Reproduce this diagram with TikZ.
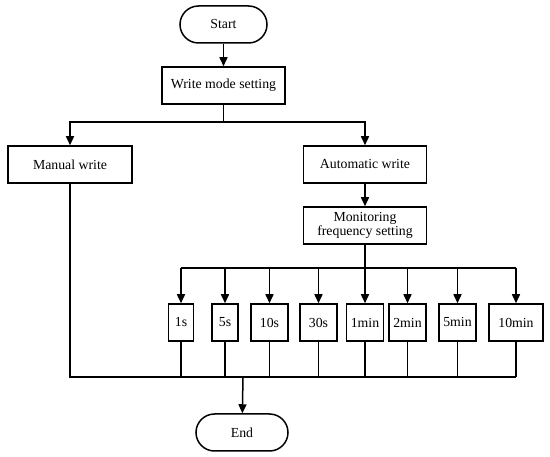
\documentclass[tikz,border=0pt]{standalone}
\usepackage{fontspec}
\setmainfont{Liberation Serif}
\usetikzlibrary{arrows.meta}
\begin{document}
\begin{tikzpicture}[x=1pt,y=-1pt,
  box/.style={draw, line width=1.5pt, inner sep=0pt, minimum height=37pt,
    font=\fontsize{13.8}{14.5}\selectfont, align=center},
  term/.style={box, rounded corners=18.5pt},
  conn/.style={line width=1.5pt},
  arr/.style={conn, -{Triangle[length=9pt,width=8pt]}}]
\useasboundingbox (0,0) rectangle (550,457);
\node[term, minimum width=87pt] (start) at (223.5,24.5) {Start};
\node[box, minimum width=123pt] (mode) at (223.5,85.5) {Write mode setting};
\node[box, minimum width=124pt] (manual) at (70,164.5) {Manual write};
\node[box, minimum width=123pt] (auto) at (365,164.5) {Automatic write};
\node[box, minimum width=123pt] (mon) at (365,225.5) {Monitoring\\frequency setting};
\node[box, minimum width=25pt] (f1) at (181,322.5) {1s};
\node[box, minimum width=26pt] (f2) at (225,322.5) {5s};
\node[box, minimum width=37pt] (f3) at (269.5,322.5) {10s};
\node[box, minimum width=37pt] (f4) at (318.5,322.5) {30s};
\node[box, minimum width=37pt] (f5) at (365,322.5) {1min};
\node[box, minimum width=37pt] (f6) at (407.5,322.5) {2min};
\node[box, minimum width=37pt] (f7) at (457.5,322.5) {5min};
\node[box, minimum width=54pt] (f8) at (516,322.5) {10min};
\node[term, minimum width=92pt] (end) at (242,432.5) {End};
\coordinate (b1) at (223.5,122);
\coordinate (b2) at (365,268);
\coordinate (b3) at (243,377);
\draw[arr] (start) -- (mode);
\draw[conn] (mode) -- (b1);
\draw[arr] (b1) -| (manual);
\draw[arr] (b1) -| (auto);
\draw[arr] (auto) -- (mon);
\draw[conn] (mon) -- (b2);
\draw[conn] (f1 |- b2) -- (f8 |- b2);
\foreach \f in {f1,f2,f3,f4,f5,f6,f7,f8} {
  \draw[arr] (\f |- b2) -- (\f);
  \draw[conn] (\f) -- (\f |- b3);
}
\draw[conn] (manual) -- (manual |- b3) -- (f8 |- b3);
\draw[arr] (b3) -- (end);
\end{tikzpicture}
\end{document}
